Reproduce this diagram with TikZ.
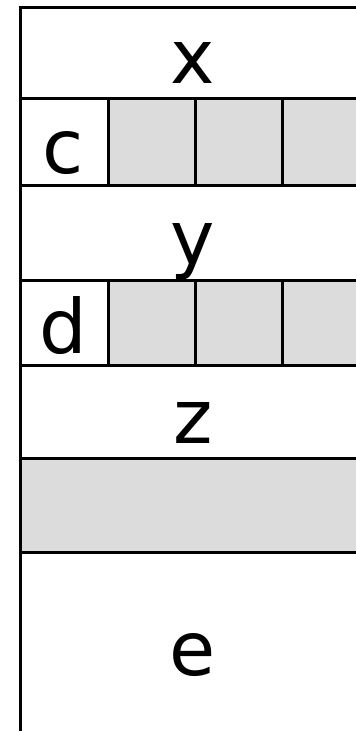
\documentclass[tikz,border=0pt]{standalone}
\usepackage{fontspec}
\setmainfont{DejaVu Sans}
\usetikzlibrary{positioning}
\definecolor{ink}  {HTML}{000000}
\definecolor{slot} {HTML}{DCDCDC}
\tikzset{
  % --- cells
  cell/.style  = {draw=ink, line width=3pt, fill=white, inner sep=0pt, outer sep=0pt,
                  anchor=north west},
  row/.style   = {cell, minimum width=348pt},
  tag/.style   = {cell, minimum width=88pt},
  box/.style   = {cell, fill=slot, minimum width=87pt},
  % --- text
  lbl/.style   = {font=\fontsize{75}{80}\selectfont, anchor=base, inner sep=0pt},
}
\begin{document}
\begin{tikzpicture}[x=1pt,y=-1pt]
  \useasboundingbox (0,0) rectangle (356,731);
  \clip (0,0) rectangle (356,731);

  \node[row, minimum height=91pt] (xrow) at (20,7) {};
  \node[tag, minimum height=87pt] (c) at (20,98) {};
  \node[box, minimum height=87pt] (c1) at (108,98) {};
  \node[box, minimum height=87pt] (c2) at (195,98) {};
  \node[box, minimum height=87pt] (c3) at (282,98) {};
  \node[row, minimum height=95pt] (yrow) at (20,185) {};
  \node[tag, minimum height=85pt] (d) at (20,280) {};
  \node[box, minimum height=85pt] (d1) at (108,280) {};
  \node[box, minimum height=85pt] (d2) at (195,280) {};
  \node[box, minimum height=85pt] (d3) at (282,280) {};
  \node[row, minimum height=93pt] (zrow) at (20,365) {};
  \node[row, fill=slot, minimum height=94pt] (zbox) at (20,458) {};
  \node[row, minimum height=220pt] (erow) at (20,552) {};

  \node[lbl] (xl) at (193,83) {x};
  \node[lbl] (cl) at (63,173) {c};
  \node[lbl] (yl) at (193,264) {y};
  \node[lbl] (dl) at (63,353) {d};
  \node[lbl] (zl) at (193,443) {z};
  \node[lbl] (el) at (193,675) {e};
\end{tikzpicture}
\end{document}
